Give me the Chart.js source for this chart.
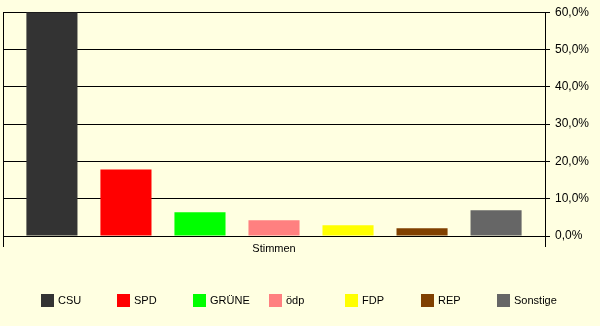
<!DOCTYPE html>
<html lang="de">
<head>
<meta charset="utf-8">
<title>Stimmen</title>
<script src="https://cdn.jsdelivr.net/npm/chart.js@4.4.1/dist/chart.umd.min.js"></script>
<style>
  html, body { margin: 0; padding: 0; background: #FFFFE1; }
  .wrap { position: relative; width: 600px; height: 326px; }
  #chart { display: block; }
  .legend { position: absolute; top: 294px; left: 0; width: 600px; height: 13px; }
  .legend-item {
    position: absolute; top: 0; height: 13px;
    font: 11px "Liberation Sans", Arial, sans-serif; color: #000;
    line-height: 13px; white-space: nowrap;
  }
  .legend-box { display: inline-block; width: 13px; height: 13px; vertical-align: top; margin-right: 4px; }
</style>
</head>
<body>
<div class="wrap">
  <canvas id="chart" width="600" height="326"></canvas>
  <div class="legend" id="legend"></div>
</div>
<script>
// --- Data ---
const categories = ['Stimmen'];
const parties    = ['CSU', 'SPD', 'GRÜNE', 'ödp', 'FDP', 'REP', 'Sonstige'];
const shares     = [60.0, 17.8, 6.4, 4.2, 2.9, 2.1, 6.9];
const colors     = ['#333333', '#FF0000', '#00FF00', '#FF8080', '#FFFF00', '#804000', '#666666'];
const yTicks     = [0, 10, 20, 30, 40, 50, 60];

const fontFamily = '"Liberation Sans", Arial, sans-serif';

const datasets = parties.map((name, i) => ({
  label: name,
  data: [shares[i]],
  backgroundColor: colors[i],
  borderWidth: 0,
  barPercentage: 0.69,
  categoryPercentage: 0.956
}));

new Chart(document.getElementById('chart'), {
  type: 'bar',
  data: { labels: categories, datasets },
  options: {
    responsive: false,
    animation: false,
    layout: { padding: { left: 3, top: 10, right: 0, bottom: 70 } },
    plugins: {
      legend: { display: false },
      tooltip: { enabled: false }
    },
    scales: {
      x: {
        grid: {
          offset: true,
          color: '#000',
          lineWidth: 1,
          tickLength: 11,
          drawOnChartArea: true
        },
        border: { color: '#000', width: 1 },
        ticks: {
          color: '#000',
          padding: -5,
          font: { family: fontFamily, size: 11 }
        },
        afterFit: scale => { scale.height = 20; }
      },
      y: {
        position: 'right',
        min: 0,
        max: 60,
        afterBuildTicks: scale => { scale.ticks = yTicks.map(v => ({ value: v })); },
        grid: { color: '#000', lineWidth: 1, tickLength: 5 },
        border: { color: '#000', width: 1 },
        ticks: {
          color: '#000',
          padding: 5,
          font: { family: fontFamily, size: 12 },
          callback: v => v.toFixed(1).replace('.', ',') + '%'
        },
        afterFit: scale => { scale.width = 55; }
      }
    }
  }
});

// --- Legend (fixed spacing like the original) ---
const legend = document.getElementById('legend');
parties.forEach((name, i) => {
  const item = document.createElement('div');
  item.className = 'legend-item';
  item.style.left = (41 + i * 76) + 'px';
  item.innerHTML = '<span class="legend-box" style="background:' + colors[i] + '"></span>' + name;
  legend.appendChild(item);
});
</script>
</body>
</html>
